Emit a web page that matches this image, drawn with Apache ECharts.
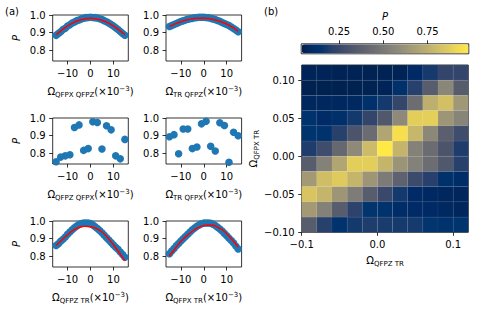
<!DOCTYPE html>
<html>
<head>
<meta charset="utf-8">
<script src="https://cdn.jsdelivr.net/npm/echarts@6.0.0/dist/echarts.min.js"></script>
<style>
  html, body { margin: 0; padding: 0; background: #fff; }
  #chart { width: 480px; height: 320px; }
</style>
</head>
<body>
<div id="chart"></div>
<script>
// ---------- data ----------
// x positions (x10^-3) of the dense scans
var omegaDense = [-15, -14, -13, -12, -11, -10, -9, -8, -7, -6, -5, -4, -3, -2, -1, 0,
                  1, 2, 3, 4, 5, 6, 7, 8, 9, 10, 11, 12, 13, 14, 15];
// x positions of the sparse scans
var omegaSparse = [-15, -13, -11, -9, -7, -5, -3, -1, 1, 3, 5, 7, 9, 11, 13, 15];
// x positions of the fitted red curves
var omegaFit = [-15, -12.5, -10, -7.5, -5, -2.5, 0, 2.5, 5, 7.5, 10, 12.5, 15];

var pQfpxQfpz = [0.885, 0.895, 0.905, 0.918, 0.925, 0.938, 0.945, 0.955, 0.960, 0.968, 0.972, 0.978, 0.982, 0.985, 0.986, 0.987,
                 0.986, 0.985, 0.983, 0.979, 0.974, 0.968, 0.962, 0.955, 0.946, 0.938, 0.928, 0.918, 0.907, 0.896, 0.886];
var fitQfpxQfpz = [0.888, 0.915, 0.938, 0.957, 0.970, 0.978, 0.981, 0.978, 0.970, 0.957, 0.938, 0.915, 0.888];

var pTrQfpz = [0.935, 0.940, 0.946, 0.952, 0.957, 0.963, 0.967, 0.972, 0.976, 0.979, 0.981, 0.984, 0.986, 0.987, 0.987, 0.987,
               0.986, 0.984, 0.981, 0.978, 0.974, 0.969, 0.964, 0.958, 0.952, 0.946, 0.940, 0.932, 0.924, 0.915, 0.905];
var fitTrQfpz = [0.934, 0.950, 0.962, 0.972, 0.978, 0.982, 0.982, 0.979, 0.972, 0.962, 0.949, 0.931, 0.908];

var pQfpzQfpx = [0.753, 0.779, 0.786, 0.792, 0.946, 0.961, 0.817, 0.827, 0.979, 0.975, 0.825, 0.956, 0.933, 0.786, 0.769, 0.879];
var pTrQfpx = [0.894, 0.906, 0.798, 0.938, 0.938, 0.827, 0.836, 0.967, 0.981, 0.840, 0.813, 0.973, 0.958, 0.750, 0.919, 0.900];

var pQfpzTr = [0.862, 0.872, 0.885, 0.897, 0.910, 0.925, 0.938, 0.950, 0.962, 0.972, 0.980, 0.986, 0.988, 0.989, 0.988, 0.985,
               0.978, 0.968, 0.958, 0.946, 0.933, 0.920, 0.905, 0.892, 0.878, 0.865, 0.852, 0.840, 0.825, 0.810, 0.795];
var fitQfpzTr = [0.861, 0.893, 0.922, 0.948, 0.963, 0.970, 0.968, 0.958, 0.938, 0.905, 0.866, 0.822, 0.775];

var pQfpxTr = [0.815, 0.830, 0.845, 0.860, 0.873, 0.887, 0.900, 0.912, 0.925, 0.938, 0.950, 0.960, 0.970, 0.978, 0.984, 0.988,
               0.989, 0.989, 0.987, 0.982, 0.975, 0.965, 0.955, 0.943, 0.930, 0.917, 0.903, 0.890, 0.875, 0.858, 0.842];
var fitQfpxTr = [0.802, 0.845, 0.884, 0.916, 0.942, 0.962, 0.974, 0.978, 0.972, 0.955, 0.928, 0.893, 0.853];

var scanTicks = [-10, 0, 10];
var pTicks = [0.8, 0.9, 1.0];

// (b) map: cell centres, rows listed from top (0.11) to bottom (-0.09)
var heatX = [-0.09, -0.07, -0.05, -0.03, -0.01, 0.01, 0.03, 0.05, 0.07, 0.09, 0.11];
var heatY = [0.11, 0.09, 0.07, 0.05, 0.03, 0.01, -0.01, -0.03, -0.05, -0.07, -0.09];
var heatP = [
  [0.060, 0.060, 0.055, 0.055, 0.050, 0.050, 0.055, 0.090, 0.180, 0.235, 0.235],
  [0.045, 0.045, 0.045, 0.045, 0.050, 0.060, 0.130, 0.206, 0.360, 0.562, 0.355],
  [0.075, 0.075, 0.075, 0.080, 0.130, 0.175, 0.240, 0.440, 0.751, 0.822, 0.642],
  [0.140, 0.100, 0.120, 0.175, 0.235, 0.330, 0.580, 0.879, 0.882, 0.637, 0.552],
  [0.145, 0.140, 0.206, 0.310, 0.434, 0.708, 0.945, 0.784, 0.571, 0.372, 0.270],
  [0.190, 0.270, 0.415, 0.580, 0.798, 0.983, 0.775, 0.538, 0.434, 0.310, 0.190],
  [0.358, 0.538, 0.708, 0.879, 0.879, 0.775, 0.628, 0.538, 0.443, 0.330, 0.206],
  [0.656, 0.813, 0.865, 0.775, 0.637, 0.510, 0.382, 0.260, 0.206, 0.130, 0.105],
  [0.841, 0.775, 0.637, 0.514, 0.358, 0.250, 0.175, 0.100, 0.088, 0.075, 0.072],
  [0.656, 0.538, 0.358, 0.220, 0.150, 0.135, 0.105, 0.095, 0.090, 0.080, 0.070],
  [0.358, 0.206, 0.140, 0.175, 0.190, 0.185, 0.180, 0.178, 0.150, 0.140, 0.145]
];
var heatXTicks = [-0.1, 0, 0.1];
var heatYTicks = [-0.1, -0.05, 0, 0.05, 0.1];
var barTicks = [0.25, 0.5, 0.75];

// cividis
var cividis = ['#00204c', '#002a66', '#00346e', '#273f6c', '#3c4a6b', '#4c556b', '#5b5f6d', '#686a70',
               '#757575', '#838178', '#928c78', '#a19876', '#b0a572', '#c0b16d', '#d1bf66', '#e1cc5c',
               '#f3db4f', '#ffe945'];

// ---------- chart ----------
var FONT = 'DejaVu Sans';
var chart = echarts.init(document.getElementById('chart'), null, { renderer: 'svg' });

var rich = {
  o: { fontSize: 10, fontFamily: FONT, color: '#000' },
  s: { fontSize: 7, fontFamily: FONT, color: '#000', padding: [6, 0, 0, 0] },
  p: { fontSize: 7, fontFamily: FONT, color: '#000', padding: [0, 0, 6, 0] }
};
function omegaName(sub, unit) {
  return '{o|Ω}{s|' + sub + '}' + (unit ? '{o|(×10}{p|−3}{o|)}' : '');
}
function minus(s) { return String(s).replace('-', '\u2212'); }
function zip(a, b) { return a.map(function (v, i) { return [v, b[i]]; }); }

var tickStyle = { length: 3.5, lineStyle: { color: '#000', width: 0.8 } };
var labelStyle = { color: '#000', fontFamily: FONT, fontSize: 10 };
var noLine = { show: false, onZero: false };

var panels = [
  { left: 52.7, top: 15, sub: 'QFPX QFPZ', x: omegaDense, p: pQfpxQfpz, fit: fitQfpxQfpz },
  { left: 166, top: 15, sub: 'TR QFPZ', x: omegaDense, p: pTrQfpz, fit: fitTrQfpz },
  { left: 52.7, top: 118, sub: 'QFPZ QFPX', x: omegaSparse, p: pQfpzQfpx },
  { left: 166, top: 118, sub: 'TR QFPX', x: omegaSparse, p: pTrQfpx },
  { left: 52.7, top: 221, sub: 'QFPZ TR', x: omegaDense, p: pQfpzTr, fit: fitQfpzTr },
  { left: 166, top: 221, sub: 'QFPX TR', x: omegaDense, p: pQfpxTr, fit: fitQfpxTr }
];

var grids = [], xAxes = [], yAxes = [], series = [];
panels.forEach(function (pn, i) {
  grids.push({ left: pn.left, top: pn.top, width: 75.6, height: 46, show: true,
    borderColor: '#000', borderWidth: 0.8, backgroundColor: 'transparent', outerBoundsMode: 'none' });
  xAxes.push({ type: 'value', gridIndex: i, min: -16.5, max: 16.5,
    name: omegaName(pn.sub, true), nameLocation: 'middle', nameGap: 24,
    nameTextStyle: { rich: rich },
    axisLine: noLine, splitLine: { show: false },
    axisTick: Object.assign({ customValues: scanTicks }, tickStyle),
    axisLabel: Object.assign({ margin: 7, customValues: scanTicks, formatter: function (v) { return minus(v); } }, labelStyle) });
  yAxes.push({ type: 'value', gridIndex: i, min: 0.74, max: 1.0,
    name: i % 2 === 0 ? 'P' : '', nameLocation: 'middle', nameGap: 31, nameRotate: 90,
    nameTextStyle: { color: '#000', fontFamily: FONT, fontSize: 10, fontStyle: 'italic' },
    axisLine: noLine, splitLine: { show: false },
    axisTick: Object.assign({ customValues: pTicks }, tickStyle),
    axisLabel: Object.assign({ margin: 7, customValues: pTicks, formatter: function (v) { return v.toFixed(1); } }, labelStyle) });
  series.push({ type: 'scatter', xAxisIndex: i, yAxisIndex: i, data: zip(pn.x, pn.p),
    symbolSize: 7.5, itemStyle: { color: '#1f77b4', opacity: 1 }, silent: true, z: 2 });
  if (pn.fit) {
    series.push({ type: 'line', xAxisIndex: i, yAxisIndex: i, data: zip(omegaFit, pn.fit),
      smooth: true, symbol: 'none', lineStyle: { color: '#ff0000', width: 1.5 }, silent: true, z: 3 });
  }
});

// (b) heat map
grids.push({ left: 301.7, top: 65, width: 166.6, height: 167.3, show: true,
  borderColor: '#000', borderWidth: 0.8, backgroundColor: 'transparent', outerBoundsMode: 'none' });
xAxes.push({ type: 'value', gridIndex: 6, min: -0.1, max: 0.12,
  name: omegaName('QFPZ TR', false), nameLocation: 'middle', nameGap: 22, nameTextStyle: { rich: rich },
  axisLine: noLine, splitLine: { show: false },
  axisTick: Object.assign({ customValues: heatXTicks }, tickStyle),
  axisLabel: Object.assign({ margin: 7, customValues: heatXTicks, formatter: function (v) { return minus(v.toFixed(1)); } }, labelStyle) });
yAxes.push({ type: 'value', gridIndex: 6, min: -0.1, max: 0.12,
  name: omegaName('QFPX TR', false), nameLocation: 'middle', nameGap: 35, nameRotate: 90, nameTextStyle: { rich: rich },
  axisLine: noLine, splitLine: { show: false },
  axisTick: Object.assign({ customValues: heatYTicks }, tickStyle),
  axisLabel: Object.assign({ margin: 7, customValues: heatYTicks, formatter: function (v) { return minus(v.toFixed(2)); } }, labelStyle) });

var heatData = [];
heatY.forEach(function (y, r) {
  heatX.forEach(function (x, c) { heatData.push([x, y, heatP[r][c]]); });
});
var heatIndex = series.length;
series.push({
  type: 'custom', xAxisIndex: 6, yAxisIndex: 6, data: heatData, silent: true,
  encode: { x: 0, y: 1 },
  renderItem: function (params, api) {
    var c = api.coord([api.value(0), api.value(1)]);
    var s = api.size([0.02, 0.02]);
    return { type: 'rect',
      shape: { x: c[0] - s[0] / 2, y: c[1] - s[1] / 2, width: s[0], height: s[1] },
      style: { fill: api.visual('color'), stroke: 'rgba(255,255,255,0.05)', lineWidth: 0.8 } };
  }
});

// colour bar axis (ticks on top)
grids.push({ left: 301.2, top: 43.8, width: 167.6, height: 10, show: true,
  borderColor: '#000', borderWidth: 0.8, backgroundColor: 'transparent', outerBoundsMode: 'none' });
xAxes.push({ type: 'value', gridIndex: 7, position: 'top', min: 0.036, max: 0.983,
  name: 'P', nameLocation: 'middle', nameGap: 22,
  nameTextStyle: { color: '#000', fontFamily: FONT, fontSize: 10, fontStyle: 'italic' },
  axisLine: noLine, splitLine: { show: false },
  axisTick: Object.assign({ customValues: barTicks }, tickStyle),
  axisLabel: Object.assign({ margin: 7, customValues: barTicks, formatter: function (v) { return v.toFixed(2); } }, labelStyle) });
yAxes.push({ type: 'value', gridIndex: 7, min: 0, max: 1, show: false });

chart.setOption({
  animation: false,
  backgroundColor: '#fff',
  title: [
    { text: '(a)', left: 5, top: 6, padding: 0, textStyle: { fontFamily: FONT, fontSize: 10, fontWeight: 'normal', color: '#000' } },
    { text: '(b)', left: 264, top: 6, padding: 0, textStyle: { fontFamily: FONT, fontSize: 10, fontWeight: 'normal', color: '#000' } }
  ],
  grid: grids,
  xAxis: xAxes,
  yAxis: yAxes,
  visualMap: {
    type: 'continuous', min: 0.036, max: 0.983, seriesIndex: heatIndex, dimension: 2,
    orient: 'horizontal', left: 301.7, top: 44.3, itemWidth: 9, itemHeight: 166.6,
    padding: 0, calculable: false, hoverLink: false, inRange: { color: cividis }
  },
  series: series
});
</script>
</body>
</html>
